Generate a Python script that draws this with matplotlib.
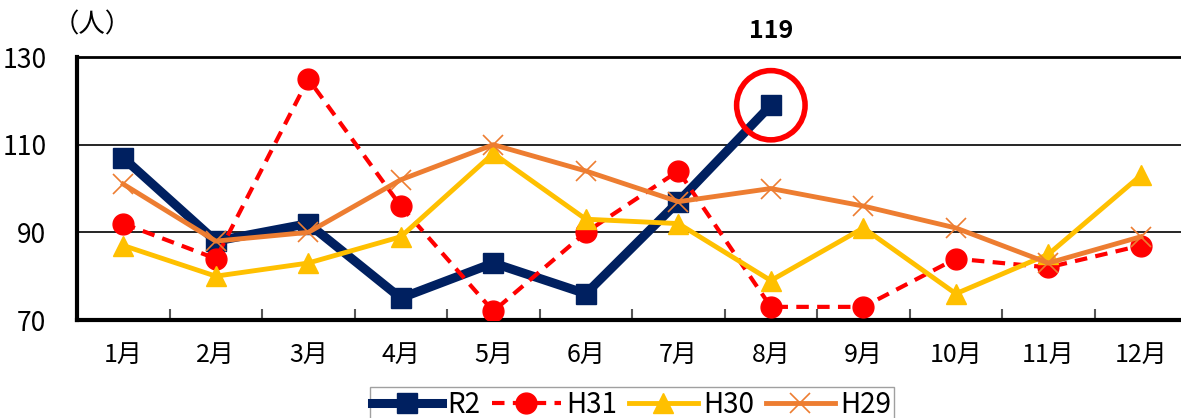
import matplotlib.pyplot as plt
from matplotlib.patches import Ellipse

plt.rcParams['font.family'] = ['Noto Sans CJK JP', 'DejaVu Sans']

months = ["1月", "2月", "3月", "4月", "5月", "6月", "7月", "8月", "9月", "10月", "11月", "12月"]
r2 = [107, 88, 92, 75, 83, 76, 97, 119]
h31 = [92, 84, 125, 96, 72, 90, 104, 73, 73, 84, 82, 87]
h30 = [87, 80, 83, 89, 108, 93, 92, 79, 91, 76, 85, 103]
h29 = [101, 88, 90, 102, 110, 104, 97, 100, 96, 91, 83, 89]

fig = plt.figure(figsize=(11.81, 4.18), dpi=100)
ax = fig.add_axes([0.0652, 0.2344, 0.940, 0.6292])

x_all = list(range(len(months)))
ax.plot(x_all[:len(r2)], r2, color="#002060", lw=6.5, marker="s", ms=15,
        solid_joinstyle="miter", label="R2", zorder=3)
ax.plot(x_all, h31, color="#FF0000", lw=3, ls=(0, (3, 2)), marker="o", ms=15,
        label="H31", zorder=4)
ax.plot(x_all, h30, color="#FFC000", lw=3.5, marker="^", ms=15,
        label="H30", zorder=5)
ax.plot(x_all, h29, color="#ED7D31", lw=3.5, marker="x", ms=15, mew=1.2,
        label="H29", zorder=6)

# highlight the latest value
ax.add_patch(Ellipse((7, r2[-1]), 0.74, 15.8, fill=False, ec="#FF0000", lw=4,
                     zorder=7, clip_on=False))
ax.text(7, 133.2, str(r2[-1]), ha="center", va="bottom", fontsize=18,
        fontweight="bold")

ax.set_xlim(-0.5, 11.5)
ax.set_ylim(70, 130)
ax.set_yticks([70, 90, 110, 130])
ax.set_yticklabels(["70", "90", "110", "130"], fontsize=19)
ax.set_xticks(x_all)
ax.set_xticklabels(months, fontsize=18)
ax.set_xticks([i + 0.5 for i in range(11)], minor=True)
ax.tick_params(axis="x", which="major", length=0, pad=16)
ax.tick_params(axis="x", which="minor", direction="in", length=8, width=1.5,
               color="#555555")
ax.tick_params(axis="y", length=0, pad=22)

for y in (90, 110):
    ax.axhline(y, color="black", lw=1.2, zorder=1)
ax.spines["top"].set_linewidth(2)
ax.spines["left"].set_linewidth(3)
ax.spines["bottom"].set_linewidth(3)
ax.spines["right"].set_visible(False)

fig.text(0.078, 0.94, "（人）", ha="center", va="center", fontsize=19)

leg = ax.legend(loc="upper center", bbox_to_anchor=(0.5, -0.255), ncol=4,
                fontsize=20, frameon=True, fancybox=False, handlelength=2.5,
                columnspacing=0.4, handletextpad=0.2, borderpad=0.1,
                borderaxespad=0)
leg.get_frame().set_edgecolor("#888888")
leg.get_frame().set_linewidth(1)

fig.savefig("out.png", dpi=100)
